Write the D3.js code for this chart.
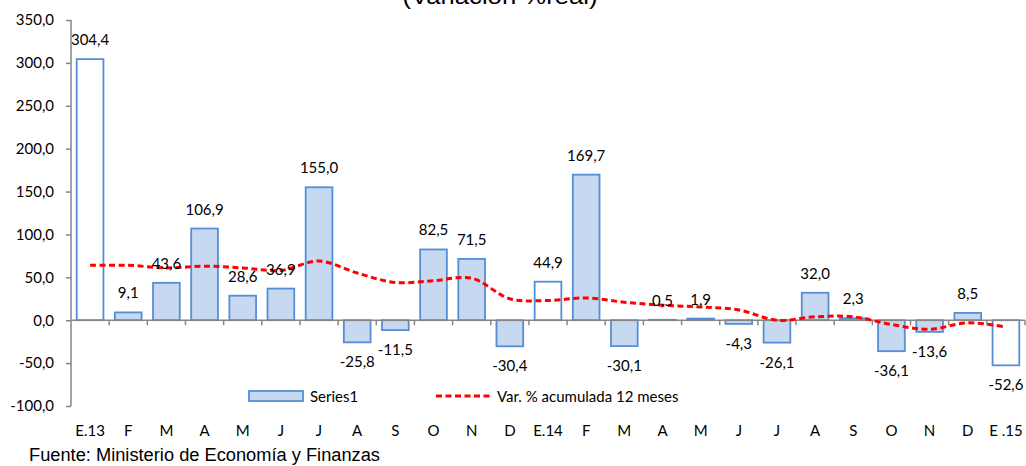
<!DOCTYPE html>
<html>
<head>
<meta charset="utf-8">
<script src="https://cdn.jsdelivr.net/npm/d3@7/dist/d3.min.js"></script>
<style>
  body { margin: 0; background: #fff; }
  svg { display: block; }
  text { fill: #000; }
</style>
</head>
<body>
<svg width="1026" height="466"></svg>
<script>
var months = ["E.13", "F", "M", "A", "M", "J", "J", "A", "S", "O", "N", "D",
              "E.14", "F", "M", "A", "M", "J", "J", "A", "S", "O", "N", "D", "E .15"];
var monthly = [304.4, 9.1, 43.6, 106.9, 28.6, 36.9, 155.0, -25.8, -11.5, 82.5, 71.5, -30.4,
               44.9, 169.7, -30.1, 0.5, 1.9, -4.3, -26.1, 32.0, 2.3, -36.1, -13.6, 8.5, -52.6];
var cumulative = [64, 64, 61, 63, 61, 58, 69, 55, 44, 46, 49, 25,
                  23, 26, 21, 17.5, 15.5, 12, 0, 4, 4, -5, -10.5, -3, -8];
var yTicks = [-100, -50, 0, 50, 100, 150, 200, 250, 300, 350];

var labelFont = "Lato, 'Open Sans', sans-serif";
var locale = d3.formatLocale({ decimal: ",", thousands: ".", grouping: [3], currency: ["", ""], minus: "-" });
var fmt = locale.format(".1f");

var svg = d3.select("svg");
var plotL = 71, plotR = 1025, plotT = 20, plotB = 406;

var x = d3.scaleBand().domain(d3.range(months.length)).range([plotL, plotR]).paddingInner(0.3).paddingOuter(0.15);
var y = d3.scaleLinear().domain([-100, 350]).range([plotB, plotT]);
var step = x.step();
var center = function(i) { return x(i) + x.bandwidth() / 2; };

// title (cut off at the top in the original)
svg.append("text").attr("x", 500).attr("y", 4).attr("text-anchor", "middle")
  .attr("font-family", "'Liberation Sans', Arial, sans-serif").attr("font-size", 22)
  .attr("textLength", 195).attr("lengthAdjust", "spacingAndGlyphs")
  .text("(Variación  %real)");

// y axis
var yAxis = svg.append("g").attr("transform", "translate(" + plotL + ",0)")
  .call(d3.axisLeft(y).tickValues(yTicks).tickSize(5).tickFormat(fmt));
yAxis.select(".domain").attr("stroke", "#868686").attr("stroke-width", 1.5).attr("d", "M0," + plotT + "V" + plotB);
yAxis.selectAll(".tick line").attr("stroke", "#868686").attr("stroke-width", 1.5);
yAxis.selectAll(".tick text").attr("x", -17).attr("font-family", labelFont).attr("font-size", 15).attr("fill", "#000");

// bars
svg.append("g").selectAll("rect").data(monthly).enter().append("rect")
  .attr("x", function(d, i) { return x(i); })
  .attr("width", x.bandwidth())
  .attr("y", function(d) { return y(Math.max(0, d)); })
  .attr("height", function(d) { return Math.abs(y(d) - y(0)); })
  .attr("fill", function(d, i) { return months[i].indexOf("E") === 0 ? "#ffffff" : "#C6D9F1"; })
  .attr("stroke", "#558ED5").attr("stroke-width", 1.8);

// zero line with category ticks
svg.append("line").attr("x1", plotL).attr("x2", plotR).attr("y1", y(0)).attr("y2", y(0))
  .attr("stroke", "#868686").attr("stroke-width", 1.5);
svg.append("g").selectAll("line").data(d3.range(1, months.length + 1)).enter().append("line")
  .attr("x1", function(i) { return plotL + i * step; })
  .attr("x2", function(i) { return plotL + i * step; })
  .attr("y1", y(0)).attr("y2", y(0) + 5)
  .attr("stroke", "#868686").attr("stroke-width", 1.5);

// x labels
svg.append("g").selectAll("text").data(months).enter().append("text")
  .attr("x", function(d, i) { return center(i); })
  .attr("y", 436).attr("text-anchor", "middle")
  .attr("font-family", labelFont).attr("font-size", 15)
  .text(function(d) { return d; });

// cumulative line
var line = d3.line()
  .x(function(d, i) { return center(i); })
  .y(function(d) { return y(d); })
  .curve(d3.curveCatmullRom.alpha(0.5));
svg.append("path").datum(cumulative).attr("d", line)
  .attr("fill", "none").attr("stroke", "#FF0000").attr("stroke-width", 3)
  .attr("stroke-dasharray", "6,3.5");

// data labels
svg.append("g").selectAll("text").data(monthly).enter().append("text")
  .attr("x", function(d, i) { return center(i); })
  .attr("y", function(d) { return d >= 0 ? y(d) - 14 : y(d) + 25; })
  .attr("text-anchor", "middle")
  .attr("font-family", labelFont).attr("font-size", 15)
  .text(function(d) { return fmt(d); });

// legend
var lg = svg.append("g");
lg.append("rect").attr("x", 249).attr("y", 391).attr("width", 54).attr("height", 10)
  .attr("fill", "#C6D9F1").attr("stroke", "#558ED5").attr("stroke-width", 1.8);
lg.append("text").attr("x", 310).attr("y", 401.5).attr("font-family", labelFont).attr("font-size", 15).text("Series1");
lg.append("line").attr("x1", 436).attr("x2", 492).attr("y1", 396).attr("y2", 396)
  .attr("stroke", "#FF0000").attr("stroke-width", 3).attr("stroke-dasharray", "6,3.5");
lg.append("text").attr("x", 497).attr("y", 401.5).attr("font-family", labelFont).attr("font-size", 15).text("Var. % acumulada 12 meses");

// source
svg.append("text").attr("x", 29).attr("y", 461)
  .attr("font-family", "'Liberation Sans', Arial, sans-serif").attr("font-size", 18)
  .attr("textLength", 351).attr("lengthAdjust", "spacingAndGlyphs")
  .text("Fuente: Ministerio de Economía  y Finanzas");
</script>
</body>
</html>
